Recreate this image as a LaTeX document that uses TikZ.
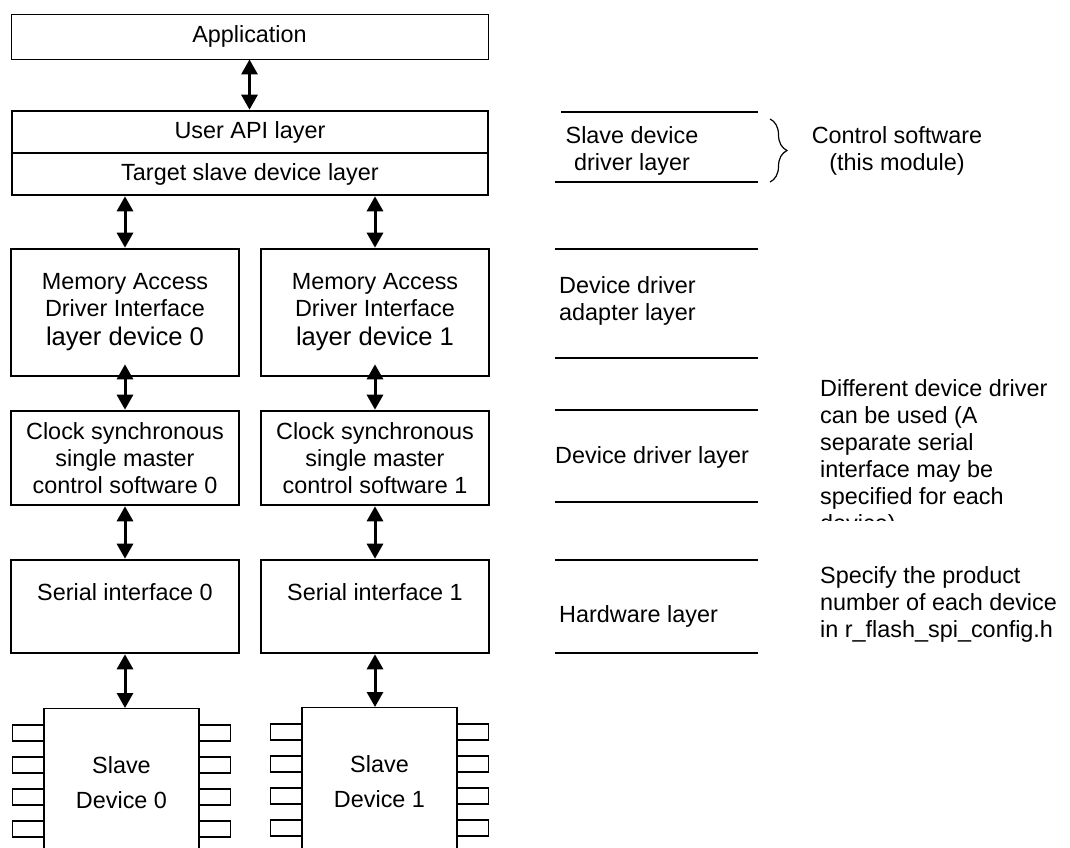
\documentclass[tikz,border=0pt]{standalone}
\usepackage{fontspec}
\setmainfont{Liberation Sans}
\usetikzlibrary{arrows.meta,decorations.pathreplacing}

\tikzset{
  layerbox/.style={draw, line width=2.6pt, align=center, inner sep=0pt, minimum width=228pt},
  chipbox/.style={draw, line width=1.3pt, align=center, inner sep=0pt, minimum width=155pt, minimum height=148pt},
  chippin/.style={draw, line width=1.3pt},
  dblarrow/.style={{Triangle[width=16pt,length=15pt]}-{Triangle[width=16pt,length=15pt]}, line width=3pt},
  sepline/.style={line width=1.5pt},
  labeltext/.style={inner sep=0pt},
  notetext/.style={anchor=north west, align=left, inner sep=0pt}
}

\begin{document}
\begin{tikzpicture}[x=1pt,y=-1pt,font=\fontsize{23.4}{27}\selectfont]
\useasboundingbox (0,0) rectangle (1070,847);
\clip (0,0) rectangle (1070,847);

% control software stack
\node[layerbox, line width=0.9pt, minimum width=477pt, minimum height=45pt] (app) at (249.5,36.5) {Application};
\node[layerbox, minimum width=476pt, minimum height=42pt] (api) at (250,132) {User API layer};
\node[layerbox, minimum width=476pt, minimum height=42pt] (tgt) at (250,174) {Target slave device layer};

\node[layerbox, minimum height=127pt] (mem0) at (125,312.5) {Memory Access\\Driver Interface\\[2pt]{\fontsize{25.6}{29}\selectfont layer device 0}};
\node[layerbox, minimum height=127pt] (mem1) at (375,312.5) {Memory Access\\Driver Interface\\[2pt]{\fontsize{25.6}{29}\selectfont layer device 1}};

\node[layerbox, minimum height=94pt] (clk0) at (125,458) {Clock synchronous\\single master\\control software 0};
\node[layerbox, minimum height=94pt] (clk1) at (375,458) {Clock synchronous\\single master\\control software 1};

\node[layerbox, minimum height=93pt, text height=17pt, text depth=30pt] (ser0) at (125,606.5) {Serial interface 0};
\node[layerbox, minimum height=93pt, text height=17pt, text depth=30pt] (ser1) at (375,606.5) {Serial interface 1};

% slave devices
\node[chipbox, anchor=north] (chip0) at (121.5,708) {Slave\\[8pt]Device 0};
\node[chipbox, anchor=north] (chip1) at (379.5,707) {Slave\\[8pt]Device 1};
\foreach \chip in {chip0,chip1}
  \foreach \k in {0,...,3} {
    \draw[chippin] ([yshift={-17-32*\k}]\chip.north west) rectangle ++(-31,16);
    \draw[chippin] ([yshift={-17-32*\k}]\chip.north east) rectangle ++(31,16);
  }

% arrows
\draw[dblarrow] (app.south) -- (app.south |- api.north);
\draw[dblarrow] (mem0.north |- tgt.south) -- (mem0.north);
\draw[dblarrow] (mem1.north |- tgt.south) -- (mem1.north);
\draw[dblarrow] ([yshift=13pt]mem0.south) -- (clk0.north);
\draw[dblarrow] ([yshift=13pt]mem1.south) -- (clk1.north);
\draw[dblarrow] (clk0.south) -- (ser0.north);
\draw[dblarrow] (clk1.south) -- (ser1.north);
\draw[dblarrow] (ser0.south) -- (ser0.south |- chip0.north);
\draw[dblarrow] (ser1.south) -- (ser1.south |- chip1.north);

% layer names
\draw[sepline] (561,112) -- (758,112);
\foreach \ly in {182,249,358,410,502,560,653}
  \draw[sepline] (555,\ly) -- (758,\ly);
\node[labeltext, anchor=north, align=center] (lblslave) at (632,126) {Slave device\\driver layer};
\draw[line width=1.2pt, decorate, decoration={brace, amplitude=17pt}] (770,119) -- (770,182);
\node[labeltext, anchor=north, align=center] (lblctrl) at (897,126) {Control software\\(this module)};
\node[labeltext, anchor=north west, align=left] (lbladapt) at (559,276) {Device driver\\adapter layer};
\node[labeltext, anchor=north west] (lbldrv) at (555,446) {Device driver layer};
\node[labeltext, anchor=north west] (lblhw) at (559,605) {Hardware layer};

% notes
\begin{scope}
  \clip (800,360) rectangle (1070,520);
  \node[notetext] (notedrv) at (820,379) {Different device driver\\can be used (A\\separate serial\\interface may be\\specified for each\\device)};
\end{scope}
\node[notetext] (notecfg) at (820,566) {Specify the product\\number of each device\\in r\_flash\_spi\_config.h};
\end{tikzpicture}
\end{document}
